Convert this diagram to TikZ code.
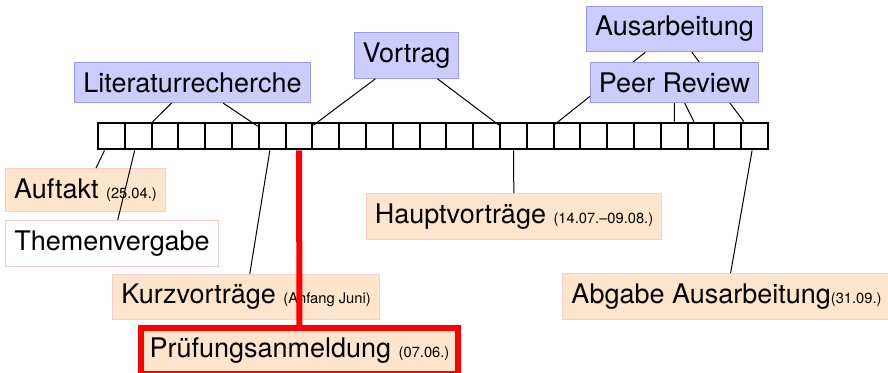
\documentclass[tikz,border=0pt]{standalone}
\usepackage{fontspec}
\setmainfont{TeX Gyre Heros}
\usetikzlibrary{backgrounds}
\newcommand{\sm}[1]{{\fontsize{7.35}{8}\selectfont #1}}
\tikzset{
  big/.style={font=\fontsize{13.5}{15}\selectfont, inner xsep=4.3pt, inner ysep=5pt},
  phase/.style={draw=blue!40, fill=blue!20, big, line width=0.5pt},
  event/.style={draw=red!20, fill=orange!20, big, line width=0.5pt},
  plainev/.style={draw=red!20, fill=white, big, line width=0.5pt},
  examev/.style={draw=red, fill=orange!20, big, line width=2.9pt},
  cell/.style={draw, line width=1pt, minimum size=13.4pt, inner sep=0pt},
  link/.style={line width=0.5pt},
  examlink/.style={draw=red, line width=3pt},
}
\begin{document}
\begin{tikzpicture}[x=0.5pt, y=-0.5pt]
\useasboundingbox (0,0) rectangle (888,373);
% timeline cells
\foreach \i in {1,...,25}
  \node[cell] (c\i) at ({98+26.8*(\i-0.5)},136) {};
% phases
\node[phase] (lit) at (192.5,82.5) {Literaturrecherche};
\node[phase] (vortrag) at (406.5,55.5) {Vortrag};
\node[phase] (ausarb) at (674.5,29) {Ausarbeitung};
\node[phase] (peer) at (674.5,82.5) {Peer Review};
% events
\node[event] (auftakt) at (85.5,190) {Auftakt \sm{(25.04.)}};
\node[plainev] (themen) at (112,243.5) {Themenvergabe};
\node[event] (kurz) at (246,297) {Kurzvorträge \sm{(Anfang Juni)}};
\node[examev] (pruef) at (299.5,351) {Prüfungsanmeldung \sm{(07.06.)}};
\node[event] (haupt) at (514,216.5) {Hauptvorträge \sm{(14.07.–09.08.)}};
\node[event] (abgabe) at (726.5,296.5) {Abgabe Ausarbeitung\sm{(31.09.)}};
% connectors
\begin{pgfonlayer}{background}
\draw[link] (ausarb) -- (c17);
\draw[link] (ausarb) -- (c25);
\end{pgfonlayer}
\draw[link] (lit) -- (c2);
\draw[link] (lit) -- (c7);
\draw[link] (vortrag) -- (c8);
\draw[link] (vortrag) -- (c16);
\draw[link] (peer) -- (c22);
\draw[link] (peer) -- (c23);
\draw[link] (auftakt) -- (c1);
\draw[link] (themen) -- (c2);
\draw[link] (kurz) -- (c7);
\draw[link] (haupt) -- (c16);
\draw[link] (abgabe) -- (c25);
\draw[examlink] (c8) -- (pruef);
\end{tikzpicture}
\end{document}
